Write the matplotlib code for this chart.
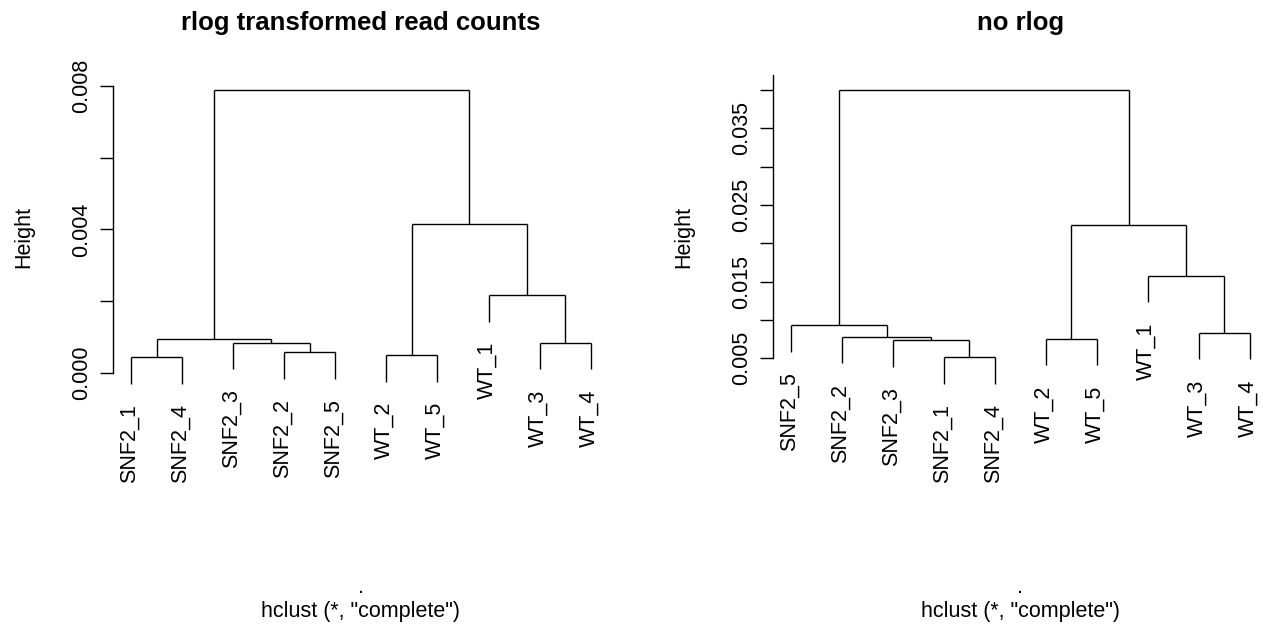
import matplotlib
matplotlib.use("Agg")
import numpy as np
from matplotlib import pyplot as plt

plt.rcParams["font.family"] = ["Liberation Sans", "DejaVu Sans"]

W, H = 1263, 624
DPI = 100

# left panel: rlog transformed read counts
left_labels = ["SNF2_1", "SNF2_4", "SNF2_3", "SNF2_2", "SNF2_5",
               "WT_2", "WT_5", "WT_1", "WT_3", "WT_4"]
# R-style merge matrix, negative = leaf (1-based plot order), positive = earlier merge
left_merge = [(-1, -2), (-4, -5), (-6, -7), (-3, 2), (-9, -10),
              (1, 4), (-8, 5), (3, 7), (6, 8)]
left_height = [0.00043, 0.00058, 0.00050, 0.00084, 0.00084,
               0.00095, 0.00217, 0.00414, 0.00789]
left_ticks = [0.000, 0.002, 0.004, 0.006, 0.008]
left_ticklabels = ["0.000", "", "0.004", "", "0.008"]

# right panel: no rlog
right_labels = ["SNF2_5", "SNF2_2", "SNF2_3", "SNF2_1", "SNF2_4",
                "WT_2", "WT_5", "WT_1", "WT_3", "WT_4"]
right_merge = [(-4, -5), (-6, -7), (-3, 1), (-2, 3), (-9, -10),
               (-1, 4), (-8, 5), (2, 7), (6, 8)]
right_height = [0.00513, 0.00756, 0.00739, 0.00782, 0.00834,
                0.00934, 0.01578, 0.02235, 0.04000]
right_ticks = [0.005, 0.010, 0.015, 0.020, 0.025, 0.030, 0.035, 0.040]
right_ticklabels = ["0.005", "", "0.015", "", "0.025", "", "0.035", ""]

FS = 15.5      # ~21.5 px
FS_MAIN = 18.5


def px_axes(x0, y0, x1, y1):
    # pixel box (top-left origin) -> figure fraction rect
    return [x0 / W, 1 - y1 / H, (x1 - x0) / W, (y1 - y0) / H]


def draw_dendro(ax, labels, merge, height, ticks, ticklabels, axis_top):
    hang = 0.1 * (max(height) - min(height))
    pos = {}
    leaf_y = {}
    for i, (a, b) in enumerate(merge, 1):
        h = height[i - 1]
        xs = []
        for c in (a, b):
            if c < 0:
                x, bottom = -c, h - hang
                leaf_y[-c] = bottom
            else:
                x, bottom = pos[c]
            ax.plot([x, x], [bottom, h], color="black", lw=1.0, solid_capstyle="butt")
            xs.append(x)
        ax.plot(xs, [h, h], color="black", lw=1.0, solid_capstyle="butt")
        pos[i] = (np.mean(xs), h)

    for k, lab in enumerate(labels, 1):
        ax.annotate(lab, (k, leaf_y[k]), xytext=(-1.4, -14.5), textcoords="offset points",
                    rotation=90, ha="center", va="top", fontsize=FS, annotation_clip=False)

    n = len(labels)
    lo, hi = min(leaf_y.values()), max(height)
    pad = 0.04 * (hi - lo)
    ax.set_ylim(lo - pad, hi + pad)
    ax.set_xlim(1 - 0.04 * (n - 1), n + 0.04 * (n - 1))

    for s in ["top", "right", "bottom"]:
        ax.spines[s].set_visible(False)
    ax.spines["left"].set_bounds(ticks[0], axis_top)
    ax.spines["left"].set_linewidth(1.0)
    ax.set_xticks([])
    ax.set_yticks(ticks)
    ax.set_yticklabels(ticklabels, rotation=90, va="center", fontsize=FS)
    ax.tick_params(axis="y", direction="out", length=9.4, width=1.0, pad=5)


fig = plt.figure(figsize=(W / DPI, H / DPI), dpi=DPI)

panels = [
    (112.6, 609.1, left_labels, left_merge, left_height, left_ticks, left_ticklabels,
     0.008, "rlog transformed read counts"),
    (772.6, 1268.1, right_labels, right_merge, right_height, right_ticks, right_ticklabels,
     0.042, "no rlog"),
]

for x0, x1, labels, merge, height, ticks, tlabs, top, title in panels:
    ax = fig.add_axes(px_axes(x0, 78.2, x1, 395.8))
    ax.set_clip_on(False)
    draw_dendro(ax, labels, merge, height, ticks, tlabs, top)
    cx = (x0 + x1) / 2
    fig.text(cx / W, 1 - 30 / H, title, ha="center", va="baseline",
             fontsize=FS_MAIN, fontweight="bold")
    fig.text(cx / W, 1 - 593 / H, ".", ha="center", va="baseline", fontsize=FS)
    fig.text(cx / W, 1 - 617 / H, 'hclust (*, "complete")', ha="center",
             va="baseline", fontsize=FS)
    fig.text((x0 - 89) / W, 1 - 237 / H, "Height", rotation=90, ha="center",
             va="center", fontsize=FS)

fig.savefig("out.png", dpi=DPI)
